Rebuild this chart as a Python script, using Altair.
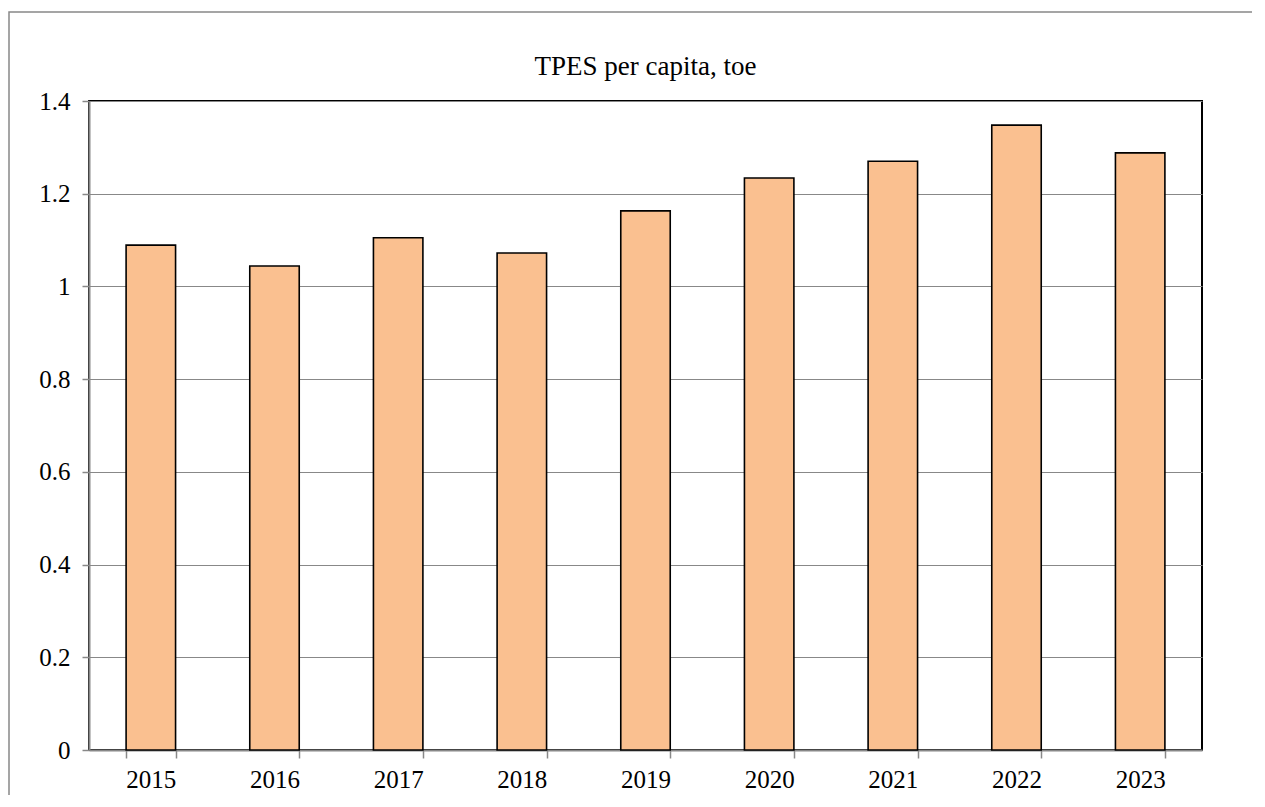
import altair as alt
import pandas as pd

years = ["2015", "2016", "2017", "2018", "2019", "2020", "2021", "2022", "2023"]
values = [1.089, 1.044, 1.105, 1.072, 1.163, 1.234, 1.270, 1.348, 1.288]
y_ticks = [0, 0.2, 0.4, 0.6, 0.8, 1.0, 1.2, 1.4]

df = pd.DataFrame({"year": years, "value": values})

FONT = "'Times New Roman', 'Liberation Serif', serif"
W, H = 1113, 649

frame = alt.Chart(pd.DataFrame({"a": [0]})).mark_rect(
    fill="transparent", stroke="#888888", strokeWidth=1.5, clip=False
).encode(
    x=alt.value(-80), x2=alt.value(W + 300),
    y=alt.value(-89), y2=alt.value(H + 300),
)

title = alt.Chart(pd.DataFrame({"t": ["TPES per capita, toe"]})).mark_text(
    font=FONT, fontSize=27, color="black", baseline="alphabetic", align="center"
).encode(
    text="t:N", x=alt.value(W / 2), y=alt.value(-26),
)

bars = alt.Chart(df).mark_bar(
    color="#FAC090", stroke="black", strokeWidth=1.6
).encode(
    x=alt.X("year:N", sort=years, title=None,
            scale=alt.Scale(paddingInner=0.6, paddingOuter=0.3),
            axis=alt.Axis(labelAngle=0, labelFont=FONT, labelFontSize=25,
                          labelColor="black", labelPadding=9,
                          tickBand="extent", tickSize=8, tickColor="#888888",
                          tickWidth=1.5, domainColor="#888888", domainWidth=2,
                          grid=False)),
    y=alt.Y("value:Q", title=None,
            scale=alt.Scale(domain=[0, 1.4], nice=False),
            axis=alt.Axis(values=y_ticks, labelFont=FONT, labelFontSize=25,
                          labelColor="black", labelPadding=12,
                          labelExpr="datum.value == 0 ? '0' : datum.value == 1 ? '1' : format(datum.value, '.1f')",
                          tickSize=7, tickColor="#888888", tickWidth=1.5,
                          domainColor="#888888", domainWidth=2,
                          gridColor="#888888", gridWidth=1.2)),
)

chart = alt.layer(frame, title, bars).properties(
    width=W, height=H,
    autosize=alt.AutoSizeParams(type="none"),
    padding={"left": 81, "top": 93, "right": 50, "bottom": 45},
).configure_view(stroke="black", strokeWidth=2)

chart.save("out.html", embed_options={"renderer": "svg", "actions": False})
